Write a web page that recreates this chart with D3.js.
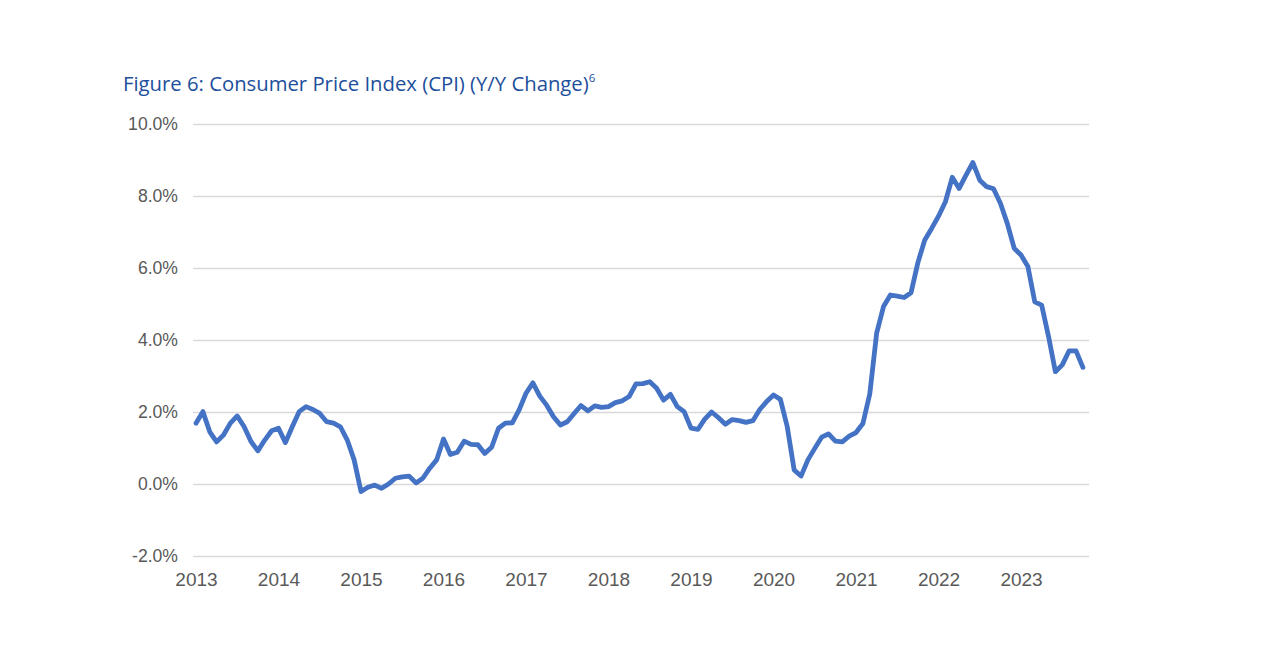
<!DOCTYPE html>
<html>
<head>
<meta charset="utf-8">
<script src="https://cdn.jsdelivr.net/npm/d3@7"></script>
<style>
  html, body { margin: 0; padding: 0; background: #ffffff; }
  svg { display: block; }
</style>
</head>
<body>
<svg id="chart" width="1276" height="647"></svg>
<script>
// Monthly CPI Y/Y change (%), Jan 2013 – Oct 2023
const cpi = [
  1.69, 2.01, 1.45, 1.17, 1.36, 1.69, 1.89, 1.59, 1.18, 0.92, 1.22, 1.48,   // 2013
  1.55, 1.15, 1.59, 2.01, 2.15, 2.07, 1.96, 1.73, 1.69, 1.59, 1.22, 0.67,   // 2014
  -0.21, -0.09, -0.03, -0.12, 0.00, 0.16, 0.20, 0.22, 0.03, 0.16, 0.44, 0.67, // 2015
  1.25, 0.82, 0.88, 1.19, 1.10, 1.09, 0.85, 1.02, 1.55, 1.69, 1.70, 2.06,   // 2016
  2.52, 2.81, 2.44, 2.19, 1.87, 1.64, 1.73, 1.96, 2.18, 2.03, 2.17, 2.13,   // 2017
  2.15, 2.26, 2.31, 2.43, 2.78, 2.79, 2.84, 2.66, 2.33, 2.49, 2.15, 2.01,   // 2018
  1.55, 1.52, 1.80, 2.00, 1.84, 1.66, 1.79, 1.76, 1.71, 1.76, 2.07, 2.29,   // 2019
  2.47, 2.35, 1.59, 0.39, 0.22, 0.67, 0.99, 1.30, 1.39, 1.19, 1.17, 1.33,   // 2020
  1.43, 1.68, 2.50, 4.19, 4.93, 5.25, 5.22, 5.18, 5.31, 6.15, 6.78, 7.10,   // 2021
  7.44, 7.84, 8.52, 8.21, 8.58, 8.93, 8.44, 8.26, 8.20, 7.80, 7.24, 6.55,   // 2022
  6.36, 6.04, 5.06, 4.97, 4.10, 3.12, 3.31, 3.70, 3.70, 3.24               // 2023
];
const yearLabels = ["2013","2014","2015","2016","2017","2018","2019","2020","2021","2022","2023"];
const yTicks = [-2, 0, 2, 4, 6, 8, 10];
const titleText = "Figure 6: Consumer Price Index (CPI) (Y/Y Change)";
const titleSup = "6";

const svg = d3.select("#chart");

const x = d3.scaleLinear().domain([0, 129]).range([196, 1082.9]);
const y = d3.scaleLinear().domain([-2, 10]).range([556, 124]);

// Title
const title = svg.append("text")
  .attr("x", 123).attr("y", 91)
  .attr("fill", "#1c4f9c")
  .style("font-family", "'Open Sans', 'Noto Sans', sans-serif")
  .style("font-size", "20.3px");
title.append("tspan").text(titleText);
title.append("tspan").attr("dy", -9).style("font-size", "11.5px").text(titleSup);

// Gridlines + y labels via axis
const yAxis = d3.axisLeft(y)
  .tickValues(yTicks)
  .tickSize(-(1089 - 193))
  .tickPadding(15)
  .tickFormat(d => d.toFixed(1) + "%");
const gy = svg.append("g").attr("transform", "translate(193,0)").call(yAxis);
gy.select(".domain").remove();
gy.selectAll(".tick line").attr("stroke", "#d9d9d9").attr("stroke-width", 1.3);
gy.selectAll(".tick text")
  .attr("fill", "#595959")
  .style("font-family", "'Liberation Sans', Arial, sans-serif")
  .style("font-size", "17.6px");

// x labels via axis
const xAxis = d3.axisBottom(x)
  .tickValues(yearLabels.map((d, i) => i * 12))
  .tickSize(0)
  .tickPadding(13)
  .tickFormat((d, i) => yearLabels[i]);
const gx = svg.append("g").attr("transform", "translate(0,560)").call(xAxis);
gx.select(".domain").remove();
gx.selectAll(".tick text")
  .attr("fill", "#595959")
  .style("font-family", "'Liberation Sans', Arial, sans-serif")
  .style("font-size", "19px");

// Line
const line = d3.line()
  .x((d, i) => x(i))
  .y(d => y(d));
svg.append("path")
  .datum(cpi)
  .attr("d", line)
  .attr("fill", "none")
  .attr("stroke", "#4472c4")
  .attr("stroke-width", 4.8)
  .attr("stroke-linejoin", "round")
  .attr("stroke-linecap", "round");
</script>
</body>
</html>
